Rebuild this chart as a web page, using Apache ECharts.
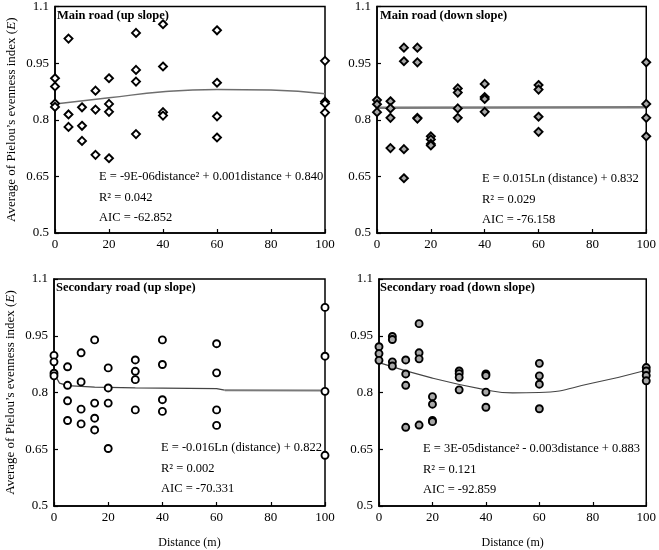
<!DOCTYPE html>
<html><head><meta charset="utf-8">
<script src="https://cdn.jsdelivr.net/npm/echarts@6/dist/echarts.min.js"></script>
<style>html,body{margin:0;padding:0;background:#fff}#c{width:659px;height:550px}</style>
</head><body><div id="c"></div>
<script>
// ---- data ----
const xTicks = [0, 20, 40, 60, 80, 100];
const yTicks = [0.5, 0.65, 0.8, 0.95, 1.1];
const titles = ['Main road (up slope)', 'Main road (down slope)', 'Secondary road (up slope)', 'Secondary road (down slope)'];
const equations = ['E = -9E-06distance² + 0.001distance + 0.840', 'E = 0.015Ln (distance) + 0.832', 'E = -0.016Ln (distance) + 0.822', 'E = 3E-05distance² - 0.003distance + 0.883'];
const r2Labels = ['R² = 0.042', 'R² = 0.029', 'R² = 0.002', 'R² = 0.121'];
const aicLabels = ['AIC = -62.852', 'AIC = -76.158', 'AIC = -70.331', 'AIC = -92.859'];

const p1Dist = [0,0,0,0,5,5,5,10,10,10,15,15,15,20,20,20,20,30,30,30,30,40,40,40,40,60,60,60,60,100,100,100,100];
const p1E = [0.910,0.888,0.843,0.834, 1.015,0.814,0.781, 0.833,0.784,0.744, 0.877,0.827,0.707, 0.910,0.842,0.821,0.698, 1.030,0.932,0.901,0.762, 1.053,0.941,0.820,0.811, 1.037,0.898,0.809,0.753, 0.956,0.848,0.843,0.819];

const p2Dist = [0,0,0,5,5,5,5,10,10,10,10,15,15,15,15,20,20,20,20,30,30,30,30,40,40,40,40,60,60,60,60,100,100,100,100];
const p2E = [0.852,0.841,0.820, 0.849,0.830,0.805,0.725, 0.991,0.955,0.722,0.645, 0.991,0.952,0.805,0.803, 0.756,0.748,0.736,0.732, 0.883,0.872,0.830,0.805, 0.895,0.860,0.855,0.821, 0.892,0.880,0.808,0.768, 0.952,0.842,0.805,0.756];

const p3Dist = [0,0,0,0,5,5,5,5,10,10,10,10,15,15,15,15,20,20,20,20,30,30,30,30,40,40,40,40,60,60,60,60,100,100,100,100];
const p3E = [0.898,0.881,0.851,0.844, 0.868,0.819,0.778,0.726, 0.905,0.828,0.756,0.717, 0.939,0.772,0.732,0.701, 0.865,0.812,0.772,0.652, 0.886,0.856,0.834,0.754, 0.939,0.874,0.781,0.750, 0.929,0.852,0.754,0.713, 1.025,0.896,0.803,0.634];

const p4Dist = [0,0,0,5,5,5,5,10,10,10,10,15,15,15,15,20,20,20,20,30,30,30,30,40,40,40,40,60,60,60,60,100,100,100,100];
const p4E = [0.921,0.903,0.885, 0.948,0.940,0.881,0.870, 0.886,0.849,0.819,0.708, 0.982,0.905,0.889,0.714, 0.789,0.769,0.726,0.723, 0.857,0.850,0.840,0.807, 0.849,0.845,0.801,0.761, 0.877,0.844,0.822,0.757, 0.866,0.857,0.845,0.831];

// fitted curves
const p1FitDist = [0,20,40,60,80,100];
const p1FitE = [0.842,0.858,0.874,0.880,0.879,0.869];
const p2FitDist = [0,100];
const p2FitE = [0.832,0.833];
const p3FitDist = [0,2,5,15,30,60,63];
const p3FitE = [0.851,0.825,0.818,0.814,0.812,0.810,0.806];
const p3FitTailDist = [63,100];
const p3FitTailE = [0.806,0.805];
const p4FitDist = [0,20,40,50,60,80,100];
const p4FitE = [0.879,0.838,0.807,0.799,0.800,0.825,0.859];

// ---- chart ----
const FONT = '"Liberation Serif", "Times New Roman", serif';
const zip = (a, b) => a.map((v, i) => [v, b[i]]);
const panels = [
  {dist: p1Dist, e: p1E, fx: p1FitDist, fy: p1FitE, sym: 'diamond', fill: '#ffffff', lineColor: '#6e6e6e', lineW: 1.5, smooth: true},
  {dist: p2Dist, e: p2E, fx: p2FitDist, fy: p2FitE, sym: 'diamond', fill: '#a8a8a8', lineColor: '#7a7a7a', lineW: 2.5, smooth: false},
  {dist: p3Dist, e: p3E, fx: p3FitDist, fy: p3FitE, sym: 'circle', fill: '#ffffff', lineColor: '#444444', lineW: 1.3, smooth: false},
  {dist: p4Dist, e: p4E, fx: p4FitDist, fy: p4FitE, sym: 'circle', fill: '#a8a8a8', lineColor: '#444444', lineW: 1.1, smooth: true}
];
const grids = [
  {left: 55, top: 5, width: 270, height: 228},
  {left: 377, top: 5, width: 272, height: 228},
  {left: 54, top: 279, width: 271, height: 227},
  {left: 379, top: 279, width: 270, height: 227}
];
const textPos = [
  {tx: 57, ty: 16, ex: 99, ey: 177},
  {tx: 380, ty: 16, ex: 482, ey: 179},
  {tx: 56, ty: 288, ex: 161, ey: 448},
  {tx: 380, ty: 288, ex: 423, ey: 449}
];

const fmt = v => String(Number(v.toFixed(2)));
const option = {
  animation: false,
  backgroundColor: '#fff',
  grid: grids.map(g => Object.assign({show: true, borderColor: '#000', borderWidth: 1.5, backgroundColor: 'transparent'}, g)),
  xAxis: grids.map((g, i) => ({
    type: 'value', gridIndex: i, min: xTicks[0], max: xTicks[xTicks.length - 1], interval: xTicks[1] - xTicks[0],
    axisLine: {show: true, lineStyle: {color: '#000', width: 1.5}},
    axisTick: {show: true, inside: true, length: 4, lineStyle: {color: '#000', width: 1.2}},
    axisLabel: {color: '#000', fontFamily: FONT, fontSize: 13, margin: 5},
    splitLine: {show: false},
    name: i >= 2 ? 'Distance (m)' : '',
    nameLocation: 'middle', nameGap: 31,
    nameTextStyle: {color: '#000', fontFamily: FONT, fontSize: 12}
  })),
  yAxis: grids.map((g, i) => ({
    type: 'value', gridIndex: i, min: yTicks[0], max: yTicks[yTicks.length - 1], interval: 0.15,
    axisLine: {show: true, lineStyle: {color: '#000', width: 1.5}},
    axisTick: {show: true, inside: true, length: 4, lineStyle: {color: '#000', width: 1.2}},
    axisLabel: {color: '#000', fontFamily: FONT, fontSize: 13, margin: 6, formatter: fmt},
    splitLine: {show: false},
    name: (i % 2 === 0) ? "Average of Pielou’s evenness index ({i|E})" : '',
    nameLocation: 'middle', nameRotate: 90, nameGap: 37,
    nameTextStyle: {color: '#000', fontFamily: FONT, fontSize: 13,
      rich: {i: {fontStyle: 'italic', fontFamily: FONT, fontSize: 13, color: '#000'}}}
  })),
  series: [].concat(
    panels.map((p, i) => ({
      type: 'line', xAxisIndex: i, yAxisIndex: i, data: zip(p.fx, p.fy), showSymbol: false, symbol: 'none',
      smooth: p.smooth, lineStyle: {color: p.lineColor, width: p.lineW}, z: 2, silent: true
    })),
    [{type: 'line', xAxisIndex: 2, yAxisIndex: 2, data: zip(p3FitTailDist, p3FitTailE), showSymbol: false, symbol: 'none',
      lineStyle: {color: '#7a7a7a', width: 2}, z: 2, silent: true}],
    panels.map((p, i) => ({
      type: 'scatter', xAxisIndex: i, yAxisIndex: i, data: zip(p.dist, p.e), clip: false,
      symbol: p.sym, symbolSize: p.sym === 'diamond' ? [8, 8] : 7,
      itemStyle: {color: p.fill, borderColor: '#000', borderWidth: 1.9, opacity: 1}, z: 3
    }))
  ),
  graphic: [].concat(
    textPos.map((t, i) => ({type: 'text', x: t.tx, y: t.ty, z: 10,
      style: {text: titles[i], fill: '#000', fontFamily: FONT, fontSize: 12.5, fontWeight: 'bold', verticalAlign: 'middle'}})),
    textPos.map((t, i) => ({type: 'text', x: t.ex, y: t.ey, z: 10,
      style: {text: equations[i], fill: '#000', fontFamily: FONT, fontSize: 12.5, verticalAlign: 'middle'}})),
    textPos.map((t, i) => ({type: 'text', x: t.ex, y: t.ey + 21, z: 10,
      style: {text: r2Labels[i], fill: '#000', fontFamily: FONT, fontSize: 12.5, verticalAlign: 'middle'}})),
    textPos.map((t, i) => ({type: 'text', x: t.ex, y: t.ey + 41, z: 10,
      style: {text: aicLabels[i], fill: '#000', fontFamily: FONT, fontSize: 12.5, verticalAlign: 'middle'}}))
  )
};
const chart = echarts.init(document.getElementById('c'), null, {renderer: 'canvas'});
chart.setOption(option);
</script></body></html>
